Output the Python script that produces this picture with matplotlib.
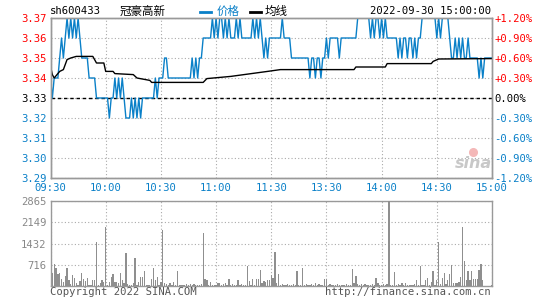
import matplotlib.pyplot as plt
from matplotlib.lines import Line2D

# 1-minute data, 09:30-11:30 + 13:00-15:00 (241 points)
minutes = list(range(241))
price = [
    3.34, 3.33, 3.34, 3.34, 3.34, 3.35, 3.36, 3.35, 3.36, 3.37, 3.36, 3.37, 3.36, 3.37, 3.36, 3.37, 3.36, 3.35, 3.35, 3.35,
    3.35, 3.34, 3.34, 3.34, 3.34, 3.33, 3.33, 3.33, 3.33, 3.33, 3.33, 3.33, 3.32, 3.33, 3.33, 3.34, 3.33, 3.34, 3.33, 3.34,
    3.33, 3.32, 3.32, 3.32, 3.33, 3.32, 3.33, 3.32, 3.33, 3.32, 3.33, 3.33, 3.33, 3.33, 3.33, 3.33, 3.33, 3.34, 3.33, 3.34,
    3.34, 3.34, 3.35, 3.35, 3.34, 3.34, 3.34, 3.34, 3.34, 3.34, 3.34, 3.34, 3.34, 3.34, 3.34, 3.34, 3.34, 3.35, 3.34, 3.35,
    3.34, 3.35, 3.35, 3.36, 3.36, 3.36, 3.36, 3.36, 3.37, 3.36, 3.37, 3.36, 3.37, 3.37, 3.36, 3.37, 3.36, 3.37, 3.36, 3.36,
    3.36, 3.37, 3.36, 3.37, 3.36, 3.36, 3.36, 3.36, 3.36, 3.36, 3.37, 3.36, 3.37, 3.36, 3.37, 3.36, 3.35, 3.36, 3.35, 3.36,
    3.36, 3.36, 3.36, 3.36, 3.36, 3.36, 3.37, 3.36, 3.36, 3.36, 3.36, 3.35, 3.35, 3.35, 3.35, 3.35, 3.35, 3.35, 3.35, 3.35,
    3.35, 3.34, 3.35, 3.35, 3.34, 3.35, 3.35, 3.34, 3.35, 3.35, 3.36, 3.35, 3.36, 3.36, 3.36, 3.36, 3.36, 3.35, 3.36, 3.36,
    3.36, 3.36, 3.36, 3.36, 3.36, 3.36, 3.36, 3.37, 3.37, 3.37, 3.37, 3.37, 3.37, 3.37, 3.36, 3.37, 3.36, 3.37, 3.37, 3.36,
    3.37, 3.36, 3.37, 3.36, 3.36, 3.36, 3.36, 3.36, 3.36, 3.35, 3.36, 3.35, 3.36, 3.36, 3.35, 3.36, 3.36, 3.35, 3.36, 3.35,
    3.36, 3.36, 3.37, 3.37, 3.37, 3.37, 3.37, 3.37, 3.37, 3.37, 3.36, 3.37, 3.36, 3.37, 3.37, 3.37, 3.37, 3.36, 3.35, 3.35,
    3.36, 3.35, 3.36, 3.35, 3.36, 3.35, 3.35, 3.36, 3.35, 3.35, 3.35, 3.35, 3.35, 3.34, 3.35, 3.34, 3.35, 3.35, 3.35, 3.35,
    3.35,
]
# average price line (minute, value)
avg_min = [0, 1, 2, 5, 7, 9, 11, 14, 23, 25, 29, 30, 34, 35, 45, 47, 54, 55, 83, 85, 98, 118, 125, 165, 166, 182, 183, 207, 208, 211, 240]
avg_val = [3.3458, 3.3417, 3.3400, 3.3433, 3.3442, 3.3492, 3.3500, 3.3508, 3.3508, 3.3475, 3.3475, 3.3433, 3.3433, 3.3422,
           3.3417, 3.3400, 3.3388, 3.3378, 3.3378, 3.3397, 3.3408, 3.3433, 3.3442, 3.3442, 3.3455, 3.3455, 3.3472, 3.3472,
           3.3483, 3.3495, 3.3497]
volume = [
    989, 455, 740, 590, 410, 445, 227, 150, 340, 614, 205, 70, 375, 273, 90, 35, 170, 445, 227, 170,
    273, 35, 35, 205, 205, 1467, 35, 100, 205, 150, 1980, 35, 150, 300, 420, 140, 140, 100, 450, 200,
    110, 1100, 80, 35, 35, 100, 960, 50, 150, 310, 310, 490, 50, 50, 35, 240, 590, 200, 290, 50,
    120, 1890, 100, 60, 35, 100, 35, 150, 35, 490, 35, 35, 35, 50, 70, 35, 70, 35, 70, 35,
    35, 35, 70, 1790, 250, 200, 35, 130, 35, 35, 35, 100, 100, 35, 70, 100, 35, 250, 35, 70,
    35, 35, 200, 35, 70, 35, 35, 660, 180, 35, 250, 35, 230, 230, 550, 100, 160, 130, 200, 200,
    370, 270, 1150, 110, 400, 35, 70, 35, 35, 70, 35, 35, 70, 35, 500, 35, 35, 600, 35, 70,
    35, 35, 70, 35, 100, 35, 70, 35, 35, 250, 250, 35, 70, 35, 35, 35, 70, 35, 35, 35,
    35, 70, 35, 35, 570, 100, 340, 70, 35, 70, 35, 70, 35, 35, 35, 70, 35, 270, 100, 35,
    35, 70, 35, 70, 2865, 35, 35, 480, 35, 70, 35, 100, 35, 100, 35, 35, 35, 35, 70, 200,
    35, 670, 35, 35, 200, 270, 35, 130, 500, 35, 200, 1490, 70, 280, 450, 70, 200, 400, 710, 100,
    100, 100, 130, 310, 2000, 850, 200, 490, 200, 500, 250, 250, 220, 540, 740, 200, 0, 0, 0, 0,
    35,
]

prev_close = 3.33
price_ticks = [3.29, 3.30, 3.31, 3.32, 3.33, 3.34, 3.35, 3.36, 3.37]
pct_labels = ["-1.20%", "-0.90%", "-0.60%", "-0.30%", "0.00%", "+0.30%", "+0.60%", "+0.90%", "+1.20%"]
time_pos = [0, 30, 60, 90, 120, 150, 180, 210, 240]
time_labels = ["09:30", "10:00", "10:30", "11:00", "11:30", "13:30", "14:00", "14:30", "15:00"]
vol_ticks = [716, 1432, 2149, 2865]

BLUE = "#0a80c8"
RED = "#ff0000"
GRID = "#aaaaaa"
EDGE = "#999999"
MONO = "DejaVu Sans Mono"
CJK = ["Noto Sans CJK SC", "DejaVu Sans"]

W, H = 545, 300
fig = plt.figure(figsize=(5.45, 3.0), dpi=100)


def px(x, y):
    return x / W, 1 - y / H


ax = fig.add_axes([50.5 / W, 1 - 178 / H, 441.5 / W, 160 / H])
vax = fig.add_axes([50.5 / W, 1 - 286 / H, 441.5 / W, 85 / H])

# price panel
ax.plot(minutes, price, color=BLUE, lw=1.0, zorder=3)
ax.plot(avg_min, avg_val, color="black", lw=1.0, zorder=4)
ax.axhline(prev_close, color="black", lw=1.0, ls=(0, (2.5, 2)), zorder=2)
ax.set_xlim(0, 240)
ax.set_ylim(3.29, 3.37)
ax.set_yticks(price_ticks)
ax.set_yticklabels([f"{p:.2f}" for p in price_ticks], fontfamily=MONO, fontsize=7.6)
for p, t in zip(price_ticks, ax.get_yticklabels()):
    t.set_color(RED if p > prev_close else ("black" if p == prev_close else BLUE))
ax.set_xticks(time_pos)
ax.set_xticklabels(time_labels, fontfamily=MONO, fontsize=7.6, color=BLUE)
ax.tick_params(length=0, pad=3)
ax.tick_params(axis="x", pad=3.5)
ax.grid(True, color=GRID, ls=(0, (1, 2)), lw=0.8)

ax2 = ax.twinx()
ax2.set_ylim(3.29, 3.37)
ax2.set_yticks(price_ticks)
ax2.set_yticklabels(pct_labels, fontfamily=MONO, fontsize=7.6)
for p, t in zip(price_ticks, ax2.get_yticklabels()):
    t.set_color(RED if p > prev_close else ("black" if p == prev_close else BLUE))
ax2.tick_params(length=0, pad=1.5)

for a in (ax, ax2, vax):
    for s in a.spines.values():
        s.set_color(EDGE)
        s.set_linewidth(1.0)

# watermark
ax.text(230, 3.2972, "sina", fontsize=11.5, fontstyle="italic", fontweight="bold",
        color="#c8c8c8", ha="center", va="center", zorder=1)
ax.plot([229.5], [3.3028], marker="o", ms=5.5, color="#f4b8b8", mec="#f4b8b8", zorder=1)

# volume panel
vax.bar(minutes, volume, width=0.7, color="#8f8f8f", lw=0, antialiased=False, zorder=3)
vax.set_xlim(0, 240)
vax.set_ylim(0, 2865)
vax.set_yticks(vol_ticks)
vax.set_yticklabels([str(v) for v in vol_ticks], fontfamily=MONO, fontsize=7.6, color="#888888")
vax.set_xticks(time_pos)
vax.set_xticklabels([])
vax.tick_params(length=0, pad=3)
vax.grid(True, color=GRID, ls=(0, (1, 2)), lw=0.8)

# header
fig.text(*px(50, 11.5), "sh600433", fontfamily=MONO, fontsize=7.6, va="center", ha="left")
fig.text(*px(120, 11.5), "冠豪高新", family=CJK, fontsize=8.3, va="center", ha="left")
fig.add_artist(Line2D([200 / W, 210.5 / W], [1 - 12 / H] * 2, color=BLUE, lw=2.0))
fig.text(*px(217, 11.5), "价格", family=CJK, fontsize=8.3, va="center", ha="left", color=BLUE)
fig.add_artist(Line2D([250 / W, 260.5 / W], [1 - 12 / H] * 2, color="black", lw=2.0))
fig.text(*px(265, 11.5), "均线", family=CJK, fontsize=8.3, va="center", ha="left")
fig.text(*px(491, 11.5), "2022-09-30 15:00:00", fontfamily=MONO, fontsize=7.6, va="center", ha="right")

# footer
fig.text(*px(50, 292), "Copyright 2022 SINA.COM", fontfamily=MONO, fontsize=7.6, va="center", ha="left", color="#555555")
fig.text(*px(491, 292), "http://finance.sina.com.cn", fontfamily=MONO, fontsize=7.6, va="center", ha="right", color="#555555")

fig.savefig("out.png", dpi=100)
